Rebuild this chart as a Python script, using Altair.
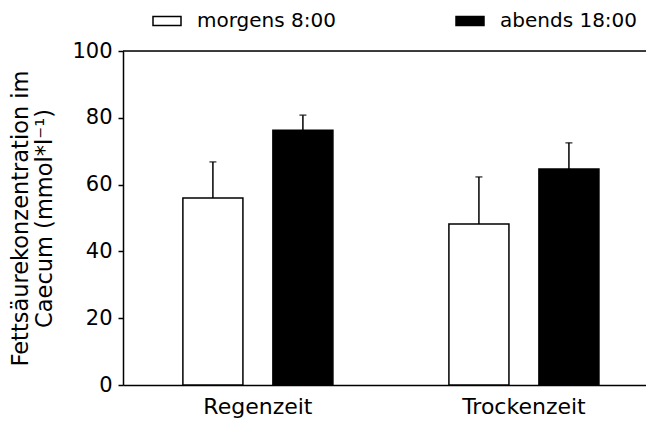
import altair as alt
import pandas as pd

seasons = ["Regenzeit", "Trockenzeit"]
times = ["morgens 8:00", "abends 18:00"]
morgens_mean = [56.0, 48.2]
morgens_err = [10.8, 14.1]
abends_mean = [76.3, 64.7]
abends_err = [4.5, 7.8]
y_ticks = [0, 20, 40, 60, 80, 100]
y_title = ["Fettsäurekonzentration im", "Caecum (mmol*l⁻¹)"]

rows = []
for i, s in enumerate(seasons):
    rows.append({"season": s, "time": times[0], "value": morgens_mean[i],
                 "upper": morgens_mean[i] + morgens_err[i]})
    rows.append({"season": s, "time": times[1], "value": abends_mean[i],
                 "upper": abends_mean[i] + abends_err[i]})
df = pd.DataFrame(rows)

FONT = "DejaVu Sans"

x_enc = alt.X(
    "season:N", sort=seasons,
    scale=alt.Scale(paddingInner=0.436, paddingOuter=0.201, align=0.56),
    axis=alt.Axis(title=None, labelAngle=0, ticks=False, labelFontSize=22,
                  labelPadding=11, domainColor="black", domainWidth=1.5,
                  labelColor="black", labelFont=FONT),
)
xo_enc = alt.XOffset("time:N", sort=times,
                     scale=alt.Scale(paddingInner=0.333, paddingOuter=0))
y_scale = alt.Scale(domain=[0, 100], nice=False)

bars = alt.Chart(df).mark_bar(stroke="black", strokeWidth=1.5).encode(
    x=x_enc,
    xOffset=xo_enc,
    y=alt.Y("value:Q", scale=y_scale,
            axis=alt.Axis(values=y_ticks, grid=False, title=y_title,
                          titleFontSize=22.5, titleFont=FONT, titleFontWeight="normal",
                          titleColor="black", titleX=-114, titleY=167,
                          titleAlign="center", titleBaseline="top",
                          titleLineHeight=24,
                          labelFontSize=21, labelFont=FONT, labelColor="black",
                          labelPadding=6, tickSize=5, tickColor="black",
                          tickWidth=1.5, domainColor="black", domainWidth=1.5)),
    color=alt.Color("time:N", sort=times,
                    scale=alt.Scale(domain=times, range=["white", "black"]),
                    legend=alt.Legend(title=None, orient="none", legendX=34,
                                      legendY=-40, direction="horizontal",
                                      symbolType="M-2,-0.64L2,-0.64L2,0.64L-2,0.64Z",
                                      symbolSize=196, symbolStrokeColor="black",
                                      symbolStrokeWidth=1.5, labelFontSize=20,
                                      labelFont=FONT, labelColor="black",
                                      labelOffset=20, columnPadding=117,
                                      padding=0)),
)

err = alt.Chart(df).mark_rule(color="black", strokeWidth=1.5).encode(
    x=alt.X("season:N", sort=seasons),
    xOffset=alt.XOffset("time:N", sort=times),
    y=alt.Y("value:Q"),
    y2="upper:Q",
)

caps = alt.Chart(df).mark_tick(color="black", thickness=1.5, size=7).encode(
    x=alt.X("season:N", sort=seasons),
    xOffset=alt.XOffset("time:N", sort=times),
    y=alt.Y("upper:Q"),
)

top = alt.Chart(pd.DataFrame({"top": [100]})).mark_rule(
    color="black", strokeWidth=1.5).encode(y=alt.Y("top:Q"))

chart = alt.layer(bars, err, caps, top).properties(
    width=523, height=334,
    padding={"left": 115, "top": 43, "right": 0, "bottom": 36},
    autosize=alt.AutoSizeParams(type="none"),
).configure_view(stroke="transparent").configure(background="white")

chart.save("out.html", embed_options={"renderer": "svg", "actions": False})
